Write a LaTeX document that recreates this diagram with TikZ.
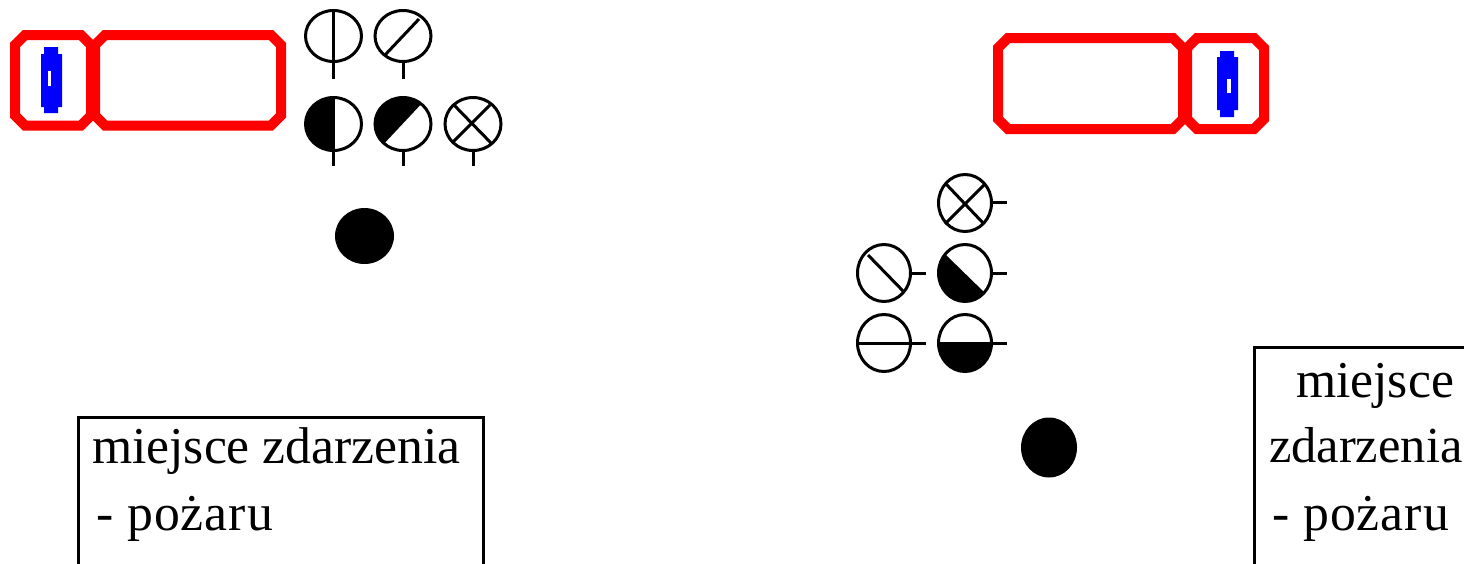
\documentclass[tikz,border=0pt]{standalone}
\usepackage{fontspec}
\setmainfont{Liberation Serif}
\newfontfamily\spacedserif[LetterSpace=2]{Liberation Serif}
\definecolor{carred}{RGB}{255,0,0}
\definecolor{carblue}{RGB}{0,0,255}
\tikzset{
  carbody/.style={draw=carred,line width=10pt,miter limit=4},
  beacon/.style={fill=carblue,draw=none},
  beaconslot/.style={fill=white,draw=none},
  lampline/.style={draw=black,line width=3pt},
  lampfill/.style={fill=black,draw=none},
  boxline/.style={draw=black,line width=3pt},
  label/.style={font=\fontsize{51.7}{60}\selectfont,anchor=base west,inner sep=0pt,outer sep=0pt},
  narrowlabel/.style={font=\fontsize{50.5}{60}\selectfont,anchor=base west,inner sep=0pt,outer sep=0pt},
  spacedlabel/.style={font=\fontsize{51.7}{60}\selectfont\spacedserif,anchor=base west,inner sep=0pt,outer sep=0pt}
}
\newcommand{\lampA}[2]{\draw[lampline] (#1,#2) ellipse [x radius=28,y radius=25.5];}
\newcommand{\lampB}[2]{\draw[lampline] (#1,#2) ellipse [x radius=26.5,y radius=28.5];}
\newcommand{\carcab}[4]{\draw[carbody] ({#1+10},#2) -- ({#3-10},#2) -- (#3,{#2+10}) -- (#3,{#4-10}) -- ({#3-10},#4) -- ({#1+10},#4) -- (#1,{#4-10}) -- (#1,{#2+10}) -- cycle;}
\begin{document}
\begin{tikzpicture}[x=1pt,y=-1pt]
\useasboundingbox (0,0) rectangle (1464,563);
\fill[white] (0,0) rectangle (1464,563);
\begin{scope}
\clip (0,0) rectangle (1464,563);
% left vehicle
\carcab{15}{35}{91}{125.5}
\carcab{95}{35}{281}{125.5}
\fill[beacon] (44,47) -- (58,47) -- (58,54) -- (62,54) -- (62,107) -- (58,107) -- (58,113) -- (44,113) -- (44,107) -- (41,107) -- (41,54) -- (44,54) -- cycle;
\fill[beaconslot] (48,71) rectangle (51,86);
% right vehicle
\carcab{998}{38}{1183}{129}
\carcab{1187}{38}{1264}{129}
\fill[beacon] (1220,51) -- (1234,51) -- (1234,57) -- (1238,57) -- (1238,110) -- (1234,110) -- (1234,117) -- (1220,117) -- (1220,110) -- (1217,110) -- (1217,57) -- (1220,57) -- cycle;
\fill[beaconslot] (1227,79) rectangle (1231,93);
% left lamps, row 1
\lampA{333.5}{36}
\draw[lampline] (333.5,10) -- (333.5,79);
\lampA{403}{36}
\draw[lampline] (403,63) -- (403,79);
\draw[lampline] (419,19) -- (385,55);
% left lamps, row 2
\begin{scope}
\clip (333.5,124) ellipse [x radius=28,y radius=26.5];
\fill[lampfill] (300,90) rectangle (335,160);
\end{scope}
\draw[lampline] (333.5,124) ellipse [x radius=28,y radius=26.5];
\draw[lampline] (333.5,150) -- (333.5,166);
\begin{scope}
\clip (403,124) ellipse [x radius=28,y radius=26.5];
\fill[lampfill] (425,100) -- (380,148) -- (360,148) -- (360,90) -- (425,90) -- cycle;
\end{scope}
\draw[lampline] (403,124) ellipse [x radius=28,y radius=26.5];
\draw[lampline] (403,150) -- (403,166);
\draw[lampline] (473,124) ellipse [x radius=28,y radius=26.5];
\draw[lampline] (473,150) -- (473,166);
\draw[lampline] (453,104) -- (491,143);
\draw[lampline] (490,105) -- (452,143);
% left spot
\fill[lampfill] (364.5,236) ellipse [x radius=29.5,y radius=28];
% right lamps
\lampB{965}{203}
\draw[lampline] (992,202.5) -- (1007,202.5);
\draw[lampline] (946,184) -- (984,224);
\draw[lampline] (984,185) -- (945,224);
\lampB{884}{273}
\draw[lampline] (911,273) -- (926,273);
\draw[lampline] (868,255) -- (904,292);
\begin{scope}
\clip (965,273) ellipse [x radius=26.5,y radius=28.5];
\fill[lampfill] (946,255) -- (986,294) -- (986,310) -- (930,310) -- (930,255) -- cycle;
\end{scope}
\lampB{965}{273}
\draw[lampline] (992,273) -- (1007,273);
\lampB{884}{343}
\draw[lampline] (857,343) -- (926,343);
\begin{scope}
\clip (965,343) ellipse [x radius=26.5,y radius=28.5];
\fill[lampfill] (930,342) rectangle (1000,380);
\end{scope}
\lampB{965}{343}
\draw[lampline] (938,343) -- (1007,343);
% right spot
\fill[lampfill] (1049,447.5) ellipse [x radius=28,y radius=30];
% left label box
\draw[boxline] (78.5,570) -- (78.5,417.5) -- (483,417.5) -- (483,570);
\node[label] (leftA) at (92,463) {miejsce zdarzenia};
\node[spacedlabel] (leftB) at (96,530) {- pożaru};
% right label box
\draw[boxline] (1254.5,570) -- (1254.5,347.5) -- (1470,347.5);
\node[label] (rightA) at (1296,397) {miejsce};
\node[narrowlabel] (rightB) at (1269,462) {zdarzenia};
\node[spacedlabel] (rightC) at (1272,530) {- pożaru};
\end{scope}
\end{tikzpicture}
\end{document}
